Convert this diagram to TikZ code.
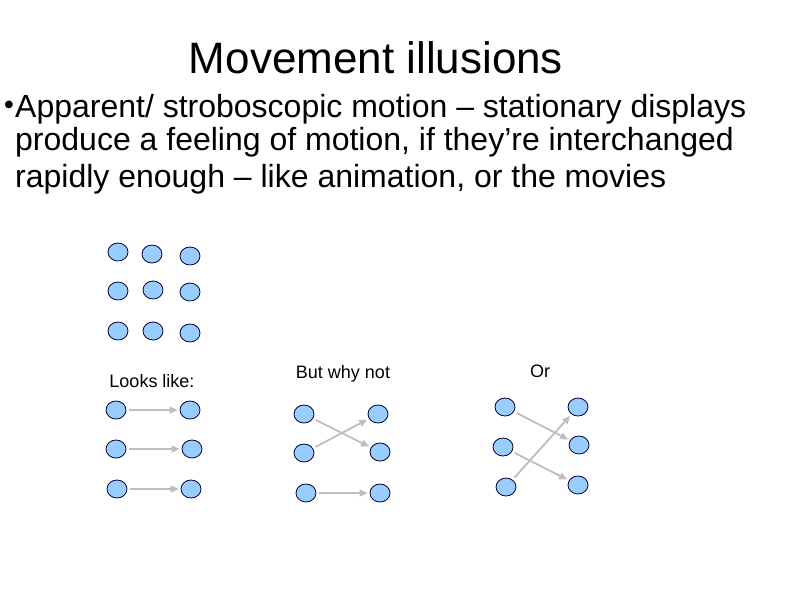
\documentclass[tikz,border=0pt]{standalone}
\usepackage{fontspec}
\setmainfont{Liberation Sans}
\newfontfamily\symfont{DejaVu Sans}
\definecolor{dotblue}{RGB}{153,204,255}
\definecolor{arrgray}{RGB}{190,190,190}
\tikzset{
  dot/.style={draw=black!80!blue, fill=dotblue, ellipse, inner sep=0pt, minimum width=20pt, minimum height=18pt, line width=0.8pt},
  move/.style={draw=arrgray, line width=1.8pt, -{Triangle[length=8pt,width=7pt]}, shorten >=2pt, shorten <=3pt},
  body/.style={anchor=base west, inner sep=0pt, font=\fontsize{32}{36}\selectfont},
  caption/.style={inner sep=0pt, font=\fontsize{18}{20}\selectfont}
}
\usetikzlibrary{shapes.geometric,arrows.meta}
\begin{document}
\begin{tikzpicture}[x=1pt,y=-1pt]
\useasboundingbox (0,0) rectangle (794,595);

% title and text
\node[inner sep=0pt, font=\fontsize{44}{48}\selectfont] (title) at (376,58) {Movement illusions};
\node[inner sep=0pt, font=\symfont\fontsize{10}{10}\selectfont] (bullet) at (9,105) {●};
\node[body] (line1) at (15,117) {Apparent/ stroboscopic motion -- stationary displays};
\node[body] (line2) at (15,150) {produce a feeling of motion, if they{\char"0027}re interchanged};
\node[body] (line3) at (15,187) {rapidly enough -- like animation, or the movies};

% grid of dots
\node[dot] (g11) at (118,252) {};
\node[dot] (g12) at (152,254) {};
\node[dot] (g13) at (190,256) {};
\node[dot] (g21) at (118,291) {};
\node[dot] (g22) at (153,290) {};
\node[dot] (g23) at (190,292) {};
\node[dot] (g31) at (118,331) {};
\node[dot] (g32) at (153,331) {};
\node[dot] (g33) at (190,333) {};

% captions
\node[caption] (looks) at (152,381) {Looks like:};
\node[caption] (why) at (343,374) {But why not};
\node[caption] (or) at (540,371) {Or};

% looks like
\node[dot] (a1) at (116,410) {};
\node[dot] (a2) at (116,449) {};
\node[dot] (a3) at (117,489) {};
\node[dot] (b1) at (190,410) {};
\node[dot] (b2) at (192,449) {};
\node[dot] (b3) at (191,489) {};
\draw[move] (a1) -- (b1);
\draw[move] (a2) -- (b2);
\draw[move] (a3) -- (b3);

% but why not
\node[dot] (c1) at (304,414) {};
\node[dot] (c2) at (304,453) {};
\node[dot] (c3) at (306,493) {};
\node[dot] (d1) at (378,414) {};
\node[dot] (d2) at (380,452) {};
\node[dot] (d3) at (380,493) {};
\draw[move] (c1) -- (d2);
\draw[move] (c2) -- (d1);
\draw[move] (c3) -- (d3);

% or
\node[dot] (e1) at (505,407) {};
\node[dot] (e2) at (503,447) {};
\node[dot] (e3) at (506,487) {};
\node[dot] (f1) at (578,407) {};
\node[dot] (f2) at (579,445) {};
\node[dot] (f3) at (578,485) {};
\draw[move] (e1) -- (f2);
\draw[move] (e2) -- (f3);
\draw[move] (e3) -- (f1);

\end{tikzpicture}
\end{document}
